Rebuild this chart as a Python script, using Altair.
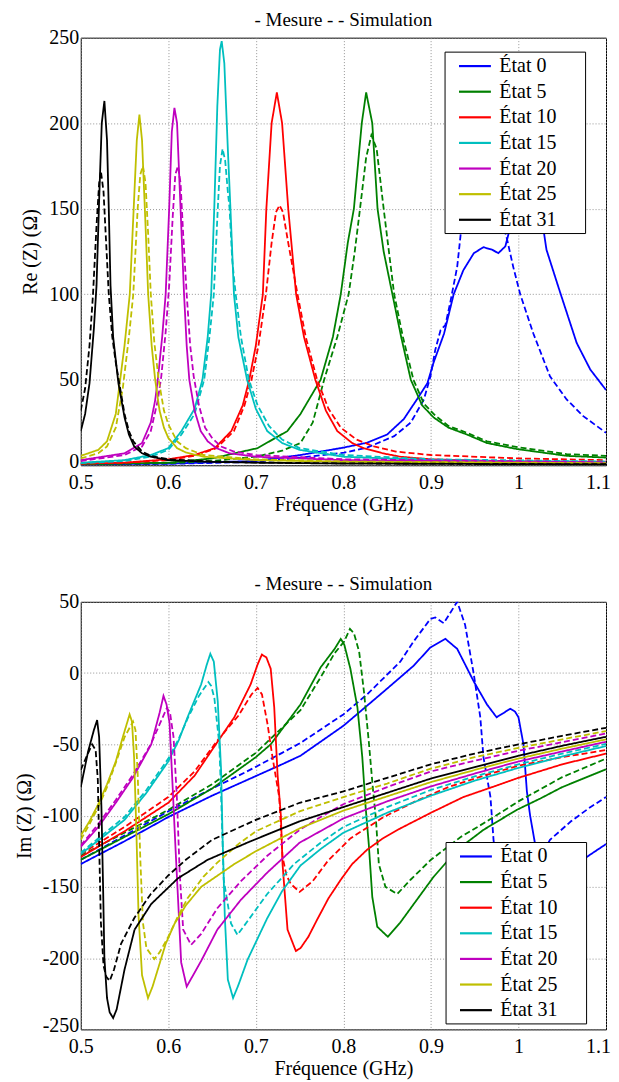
import altair as alt
import pandas as pd

STATES = ["État 0", "État 5", "État 10", "État 15", "État 20", "État 25", "État 31"]
COLORS = ["#0000FF", "#008000", "#FF0000", "#00BFBF", "#BF00BF", "#BFBF00", "#000000"]
KINDS = ["Mesure", "Simulation"]
X_TICKS = [0.5, 0.6, 0.7, 0.8, 0.9, 1.0, 1.1]
RE_TICKS = [0, 50, 100, 150, 200, 250]
IM_TICKS = [-250, -200, -150, -100, -50, 0, 50]
TITLE = "- Mesure - - Simulation"

# ---------------- Re(Z) : measured (solid) / simulated (dashed) ----------------
RE_M0 = [(0.5, 0.5), (0.6, 1.0), (0.7, 2.5), (0.751, 6), (0.80, 10.3), (0.827, 13.2), (0.850, 18), (0.869, 27),
         (0.884, 38.5), (0.896, 48), (0.903, 60), (0.915, 77), (0.926, 100), (0.937, 114), (0.949, 124),
         (0.960, 127.5), (0.970, 126), (0.977, 124), (0.985, 128), (0.989, 136), (0.995, 160), (1.005, 175),
         (1.015, 170), (1.025, 150), (1.032, 126), (1.047, 102), (1.0665, 71.5), (1.082, 56), (1.1, 44)]
RE_S0 = [(0.5, 0.4), (0.6, 0.8), (0.7, 2), (0.751, 4.5), (0.801, 7.4), (0.827, 10.3), (0.858, 17), (0.877, 25),
         (0.892, 38.5), (0.8995, 52), (0.905, 67.6), (0.911, 79), (0.9165, 82), (0.922, 95), (0.930, 116),
         (0.935, 140), (0.945, 160), (0.960, 165), (0.975, 155), (0.983, 140), (0.987, 132), (0.994, 116),
         (1.002, 100), (1.017, 77), (1.036, 52), (1.055, 38.5), (1.074, 28.7), (1.1, 19)]
RE_M5 = [(0.5, 0.8), (0.6, 1.5), (0.65, 4), (0.702, 10), (0.736, 20), (0.751, 30), (0.774, 50), (0.788, 75),
         (0.797, 100), (0.805, 130), (0.812, 150), (0.821, 200), (0.826, 218), (0.833, 200), (0.839, 150),
         (0.846, 125), (0.856, 100), (0.866, 75), (0.877, 50), (0.890, 35), (0.903, 28), (0.920, 22),
         (0.941, 18), (0.964, 13), (0.998, 9.5), (1.055, 5.5), (1.1, 4.5)]
RE_S5 = [(0.5, 0.6), (0.6, 1.2), (0.65, 2.5), (0.70, 5), (0.73, 8.5), (0.751, 13), (0.765, 25), (0.778, 50),
         (0.793, 75), (0.806, 100), (0.813, 125), (0.819, 150), (0.826, 180), (0.832, 193), (0.838, 185),
         (0.846, 150), (0.852, 125), (0.858, 100), (0.868, 75), (0.880, 50), (0.892, 36), (0.905, 29),
         (0.920, 23), (0.941, 19), (0.964, 14), (1.0, 10.5), (1.055, 6.5), (1.1, 5.5)]
RE_M10 = [(0.5, 1), (0.55, 1.5), (0.6, 3.5), (0.63, 6), (0.653, 10), (0.672, 20), (0.685, 35), (0.6925, 50),
          (0.700, 70), (0.708, 100), (0.710, 125), (0.712, 150), (0.718, 200), (0.724, 218), (0.730, 200),
          (0.737, 150), (0.746, 100), (0.755, 75), (0.768, 50), (0.780, 32), (0.793, 20), (0.810, 13),
          (0.823, 10), (0.845, 7), (0.865, 5), (0.9, 3.5), (1.0, 2), (1.1, 1.5)]
RE_S10 = [(0.5, 1), (0.55, 1.5), (0.6, 3), (0.63, 5.5), (0.655, 10), (0.675, 20), (0.687, 35), (0.695, 50),
          (0.703, 70), (0.7115, 100), (0.718, 130), (0.723, 148), (0.727, 152), (0.731, 148), (0.737, 130),
          (0.7476, 100), (0.757, 75), (0.770, 50), (0.783, 33), (0.797, 22), (0.815, 15), (0.835, 11),
          (0.86, 8), (0.9, 6), (1.0, 4), (1.1, 3)]
RE_M15 = [(0.5, 1.5), (0.55, 3), (0.58, 6), (0.6, 10), (0.615, 20), (0.63, 33), (0.639, 50), (0.645, 75),
          (0.649, 100), (0.6525, 150), (0.656, 210), (0.659, 243), (0.661, 248), (0.664, 235), (0.668, 185),
          (0.671, 150), (0.675, 100), (0.680, 75), (0.690, 50), (0.700, 33), (0.713, 20), (0.730, 13),
          (0.750, 9), (0.8, 5), (0.9, 3), (1.1, 2)]
RE_S15 = [(0.5, 1.2), (0.55, 2.5), (0.58, 5), (0.6, 9), (0.615, 18), (0.63, 30), (0.641, 50), (0.647, 75),
          (0.652, 100), (0.6565, 150), (0.659, 175), (0.662, 185), (0.665, 178), (0.668, 160), (0.670, 150),
          (0.673, 120), (0.677, 100), (0.683, 75), (0.692, 50), (0.702, 35), (0.715, 23), (0.730, 15),
          (0.75, 10), (0.8, 6), (0.9, 3.5), (1.1, 2.2)]
RE_M20 = [(0.5, 3), (0.55, 7), (0.57, 13), (0.58, 25), (0.585, 38), (0.588, 50), (0.593, 75), (0.597, 100),
          (0.601, 150), (0.604, 195), (0.607, 209), (0.610, 200), (0.614, 150), (0.618, 100), (0.621, 70),
          (0.624, 50), (0.630, 32), (0.637, 20), (0.645, 14), (0.655, 10), (0.670, 7), (0.7, 5), (0.8, 3),
          (1.1, 1.5)]
RE_S20 = [(0.5, 2.5), (0.55, 6), (0.57, 11), (0.58, 20), (0.588, 38), (0.592, 52), (0.597, 78), (0.601, 105),
          (0.605, 145), (0.608, 170), (0.611, 175), (0.614, 165), (0.617, 135), (0.621, 100), (0.625, 70),
          (0.629, 52), (0.635, 35), (0.642, 22), (0.65, 16), (0.66, 11), (0.675, 8), (0.7, 6), (0.8, 3.5),
          (1.1, 1.8)]
RE_M25 = [(0.5, 5.5), (0.52, 9), (0.53, 14), (0.54, 30), (0.545, 50), (0.55, 70), (0.556, 100), (0.56, 145),
          (0.564, 190), (0.567, 205), (0.57, 190), (0.574, 140), (0.577, 100), (0.581, 70), (0.585, 50),
          (0.59, 32), (0.595, 22), (0.6, 16), (0.61, 10), (0.62, 7.5), (0.64, 5), (0.7, 3), (0.8, 2), (1.1, 1)]
RE_S25 = [(0.5, 4), (0.52, 7), (0.53, 11), (0.54, 22), (0.548, 45), (0.555, 75), (0.56, 100), (0.565, 150),
          (0.568, 170), (0.571, 175), (0.574, 165), (0.577, 135), (0.58, 100), (0.584, 72), (0.589, 50),
          (0.595, 32), (0.6, 24), (0.61, 14), (0.62, 10), (0.64, 6), (0.7, 3.5), (0.8, 2.2), (1.1, 1.2)]
RE_M31 = [(0.5, 20), (0.505, 30), (0.51, 48), (0.515, 80), (0.518, 105), (0.521, 155), (0.524, 200),
          (0.527, 213), (0.530, 190), (0.532, 150), (0.534, 105), (0.537, 75), (0.543, 48), (0.55, 28),
          (0.555, 18), (0.561, 11), (0.57, 7), (0.58, 5), (0.6, 3), (0.65, 2), (0.7, 1.5), (0.8, 1), (1.1, 0.5)]
RE_S31 = [(0.5, 32), (0.505, 45), (0.51, 70), (0.514, 100), (0.518, 140), (0.521, 165), (0.523, 172),
          (0.526, 160), (0.529, 130), (0.532, 100), (0.536, 75), (0.540, 60), (0.545, 45), (0.55, 30),
          (0.555, 20), (0.56, 14), (0.57, 8), (0.58, 5.5), (0.6, 3.5), (0.65, 2.2), (0.7, 1.6), (0.8, 1.1),
          (1.1, 0.6)]

# ---------------- Im(Z) : measured (solid) / simulated (dashed) ----------------
IM_M0 = [(0.5, -134), (0.55, -118), (0.6, -101), (0.65, -86), (0.69, -75), (0.73, -64), (0.751, -58),
         (0.8, -37), (0.846, -13), (0.88, 5), (0.8994, 18), (0.9165, 24), (0.93, 17), (0.949, -6),
         (0.964, -22), (0.975, -31), (0.983, -28), (0.9905, -25), (0.996, -27), (1.0, -31), (1.0057, -50),
         (1.0096, -83), (1.0133, -100), (1.019, -120), (1.03, -150), (1.045, -160), (1.06, -148),
         (1.078, -129), (1.1, -120)]
IM_S0 = [(0.5, -131), (0.55, -114), (0.6, -97), (0.65, -81), (0.69, -69), (0.73, -56), (0.751, -49),
         (0.8, -29), (0.827, -15), (0.865, 8), (0.88, 22), (0.8994, 38), (0.905, 39), (0.9146, 35),
         (0.93, 50), (0.939, 34), (0.949, -1), (0.9564, -31), (0.96, -59), (0.968, -87), (0.9715, -117),
         (0.978, -150), (0.99, -165), (1.005, -158), (1.02, -135), (1.036, -117), (1.06, -104),
         (1.08, -95), (1.1, -87)]
IM_M5 = [(0.5, -131), (0.55, -115), (0.6, -99), (0.65, -81), (0.7, -59), (0.717, -50), (0.751, -22),
         (0.774, 4), (0.79, 17), (0.797, 24), (0.801, 20), (0.808, 3), (0.816, -24), (0.8216, -59),
         (0.8254, -94), (0.829, -120), (0.833, -157), (0.8387, -178), (0.8508, -185), (0.865, -175),
         (0.884, -159), (0.903, -143), (0.93, -124), (0.96, -110), (0.998, -96), (1.025, -88), (1.05, -80),
         (1.1, -67.5)]
IM_S5 = [(0.5, -128), (0.55, -112), (0.6, -96), (0.65, -78), (0.7, -56), (0.717, -46), (0.751, -26),
         (0.774, -3), (0.79, 14), (0.8007, 22), (0.8075, 31), (0.812, 28), (0.818, 15), (0.8235, -13),
         (0.829, -48), (0.834, -83), (0.837, -101), (0.8405, -134), (0.848, -150), (0.8615, -155),
         (0.8767, -145), (0.9, -131), (0.934, -115), (0.964, -104), (1.0, -90), (1.05, -73), (1.1, -60)]
IM_M10 = [(0.5, -129), (0.55, -111), (0.6, -91), (0.63, -72), (0.6565, -48), (0.6754, -31), (0.694, -8),
          (0.702, 6), (0.7069, 13), (0.712, 11), (0.717, 3), (0.721, -24), (0.7248, -71), (0.7286, -100),
          (0.7305, -134), (0.7362, -180), (0.7457, -195), (0.751, -193), (0.76, -185), (0.77, -173),
          (0.783, -158), (0.797, -145), (0.81, -134), (0.827, -124), (0.845, -116), (0.865, -109),
          (0.9, -98), (0.937, -87), (0.97, -80), (1.0, -73.5), (1.05, -64), (1.1, -56.5)]
IM_S10 = [(0.5, -127), (0.55, -108), (0.6, -87), (0.63, -69), (0.6565, -47), (0.68, -30), (0.695, -15),
          (0.702, -10.5), (0.707, -15), (0.7134, -36), (0.719, -59), (0.7267, -87), (0.7305, -129),
          (0.735, -142), (0.74, -148), (0.75, -153.5), (0.765, -146), (0.782, -132), (0.808, -116),
          (0.846, -101), (0.884, -89.5), (0.92, -80), (0.96, -72), (1.0, -65), (1.05, -59), (1.1, -54)]
IM_M15 = [(0.5, -127), (0.55, -103), (0.575, -84), (0.6, -62), (0.612, -47), (0.622, -31), (0.6375, -8),
          (0.644, 6), (0.648, 13.5), (0.652, 8), (0.6565, -20), (0.6603, -68), (0.662, -115), (0.6645, -170),
          (0.668, -215), (0.674, -228), (0.68, -219), (0.6906, -201), (0.713, -172), (0.73, -153),
          (0.751, -135), (0.775, -123), (0.8, -112), (0.85, -98), (0.9, -86), (0.95, -75.5), (1.0, -66.5),
          (1.05, -58.5), (1.1, -51.2)]
IM_S15 = [(0.5, -126), (0.55, -101), (0.575, -82), (0.6, -60), (0.612, -46), (0.622, -32), (0.635, -16),
          (0.6458, -6.3), (0.649, -9), (0.6526, -17.5), (0.6583, -50), (0.661, -99), (0.6633, -145),
          (0.6716, -175.6), (0.679, -183.7), (0.6906, -174), (0.713, -155), (0.7437, -134), (0.774, -119),
          (0.8, -108), (0.85, -94), (0.9, -82), (0.95, -72.5), (1.0, -64), (1.05, -56.5), (1.1, -49.7)]
IM_M20 = [(0.5, -122), (0.52, -108), (0.54, -91), (0.56, -73), (0.5805, -50), (0.59, -28), (0.5945, -16),
          (0.598, -22), (0.6014, -35), (0.6052, -83), (0.608, -120), (0.611, -157), (0.6147, -203),
          (0.621, -220), (0.6375, -202), (0.656, -180), (0.683, -159), (0.713, -140), (0.75, -119),
          (0.8, -102), (0.85, -90), (0.9, -79.5), (0.95, -70.5), (1.0, -62), (1.05, -55), (1.1, -48.2)]
IM_S20 = [(0.5, -121), (0.52, -106), (0.54, -89), (0.56, -71), (0.58, -50), (0.59, -36), (0.5984, -24.4),
          (0.602, -28), (0.606, -45), (0.61, -90), (0.613, -140), (0.617, -180), (0.626, -190.7),
          (0.6375, -183), (0.656, -165), (0.683, -146), (0.7134, -128), (0.75, -110), (0.774, -101),
          (0.8, -92), (0.85, -80), (0.9, -69), (0.95, -61.5), (1.0, -54.5), (1.05, -48.5), (1.1, -42.4)]
IM_M25 = [(0.5, -114), (0.51, -104), (0.52, -92), (0.53, -78), (0.54, -62), (0.548, -45), (0.5558, -29),
          (0.5585, -34), (0.561, -60), (0.5635, -110), (0.566, -170), (0.57, -212), (0.5768, -228),
          (0.582, -220), (0.588, -208), (0.597, -190), (0.607, -176), (0.62, -163), (0.6375, -150),
          (0.6754, -134), (0.7, -125), (0.75, -109), (0.8, -96.5), (0.85, -86.5), (0.9, -76.5), (0.95, -68),
          (1.0, -60), (1.05, -53), (1.1, -46.5)]
IM_S25 = [(0.5, -117), (0.51, -106), (0.52, -94), (0.53, -80), (0.54, -63), (0.55, -45), (0.5597, -34),
          (0.5625, -40), (0.565, -70), (0.568, -130), (0.571, -175), (0.575, -193), (0.584, -200.7),
          (0.59, -196), (0.6, -185), (0.61, -172), (0.622, -158), (0.64, -143), (0.656, -133), (0.68, -120),
          (0.7, -111), (0.75, -97), (0.8, -87), (0.85, -77.5), (0.9, -67), (0.95, -59), (1.0, -52.5),
          (1.05, -46.5), (1.1, -40.7)]
IM_M31 = [(0.5, -80), (0.5084, -55), (0.515, -40), (0.5187, -33), (0.521, -45), (0.5236, -94), (0.5255, -150),
          (0.527, -200), (0.53, -228), (0.533, -238), (0.537, -242), (0.541, -236), (0.55, -208),
          (0.5615, -180), (0.5805, -162), (0.611, -144), (0.645, -131), (0.694, -118), (0.75, -104),
          (0.8, -94), (0.85, -84), (0.9, -74), (0.95, -66), (1.0, -58), (1.05, -51), (1.1, -44.7)]
IM_S31 = [(0.5, -68), (0.507, -58), (0.513, -50), (0.517, -54), (0.5195, -75), (0.521, -120), (0.523, -175),
          (0.526, -205), (0.529, -213), (0.533, -216), (0.538, -208), (0.546, -190), (0.561, -172),
          (0.58, -155), (0.6, -142), (0.62, -131), (0.65, -117), (0.7, -103), (0.75, -91), (0.8, -83),
          (0.85, -73.5), (0.9, -64), (0.95, -56.5), (1.0, -50), (1.05, -44), (1.1, -38.4)]

RE_CURVES = [
    ("État 0", RE_M0, RE_S0), ("État 5", RE_M5, RE_S5), ("État 10", RE_M10, RE_S10),
    ("État 15", RE_M15, RE_S15), ("État 20", RE_M20, RE_S20), ("État 25", RE_M25, RE_S25),
    ("État 31", RE_M31, RE_S31),
]
IM_CURVES = [
    ("État 0", IM_M0, IM_S0), ("État 5", IM_M5, IM_S5), ("État 10", IM_M10, IM_S10),
    ("État 15", IM_M15, IM_S15), ("État 20", IM_M20, IM_S20), ("État 25", IM_M25, IM_S25),
    ("État 31", IM_M31, IM_S31),
]

FONT = "Liberation Serif"
# trailing non-breaking spaces closed by a zero-width space: invisible, but they widen the legend box
PAD = "\u00a0" * 5 + "\u200b"
LEG_STATES = [s + PAD for s in STATES]


def to_frame(curves):
    rows = []
    for state, meas, sim in curves:
        for kind, pts in (("Mesure", meas), ("Simulation", sim)):
            for i, (f, v) in enumerate(pts):
                rows.append({"state": state + PAD, "kind": kind, "key": state + "|" + kind,
                             "f": f, "v": v, "i": i})
    return pd.DataFrame(rows)


def panel(df, ytitle, yticks, ydomain, lx, ly):
    legend = alt.Legend(
        title=None, orient="none", legendX=lx, legendY=ly,
        symbolType="M0,0L3.2,0", symbolSize=400, symbolStrokeWidth=2.2,
        labelFont=FONT, labelFontSize=20, labelColor="black", labelOffset=29,
        strokeColor="black", fillColor="white", padding=3, rowPadding=3.7,
        direction="vertical",
    )
    return alt.Chart(df).mark_line(strokeWidth=1.8, clip=True).encode(
        x=alt.X("f:Q", scale=alt.Scale(domain=[0.5, 1.1], nice=False, zero=False),
                axis=alt.Axis(values=X_TICKS, format="~g", title="Fréquence (GHz)",
                              labelFlush=False, labelOverlap=False,
                              labelOffset={"condition": {"test": "datum.value > 1.05", "value": -8},
                                           "value": 0})),
        y=alt.Y("v:Q", scale=alt.Scale(domain=ydomain, nice=False, zero=False),
                axis=alt.Axis(values=yticks, title=ytitle, labelExpr="'' + datum.value",
                              labelFlush=False, labelOverlap=False,
                              labelOffset={"condition": {"test": "datum.value == %d" % ydomain[0],
                                                         "value": -4},
                                           "value": 0})),
        color=alt.Color("state:N", scale=alt.Scale(domain=LEG_STATES, range=COLORS), legend=legend),
        strokeDash=alt.StrokeDash("kind:N", scale=alt.Scale(domain=KINDS, range=[[1, 0], [6, 3]]),
                                  legend=None),
        detail="key:N",
        order="i:Q",
    ).properties(
        width=527, height=429,
        title=alt.TitleParams(TITLE, font=FONT, fontSize=19, fontWeight="normal",
                              anchor="middle", offset=-2, color="black"),
    )


top = panel(to_frame(RE_CURVES), "Re (Z) (Ω)", RE_TICKS, [0, 250], 365, 14)
bottom = panel(to_frame(IM_CURVES), "Im (Z) (Ω)", IM_TICKS, [-250, 50], 366, 241)

chart = alt.vconcat(top, bottom, spacing=137, bounds="flush").resolve_scale(
    color="independent", strokeDash="independent"
).resolve_legend(color="independent").configure(
    font=FONT, padding={"left": 5, "top": 0, "right": 0, "bottom": 0}
).configure_view(
    stroke="black", strokeWidth=1
).configure_axis(
    labelFont=FONT, titleFont=FONT, labelFontSize=20, titleFontSize=20, titleFontWeight="normal",
    labelColor="black", titleColor="black", domain=False, ticks=False,
    grid=True, gridColor="#888888", gridDash=[1, 2], gridWidth=0.9,
).configure_axisX(
    labelPadding=7, titlePadding=2
).configure_axisY(
    labelPadding=2, titlePadding=8
)

chart.save("out.html", embed_options={"renderer": "svg", "actions": False})
